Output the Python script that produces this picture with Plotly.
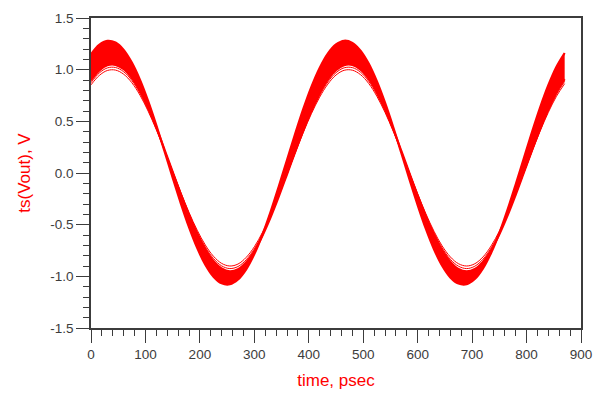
import plotly.graph_objects as go

# time samples (psec)
time_ps = [0, 15, 30, 45, 60, 75, 90, 105, 120, 135, 150, 165, 180, 195, 210, 225, 240, 255,
           270, 285, 300, 315, 330, 345, 360, 375, 390, 405, 420, 435, 450, 465, 480, 495,
           510, 525, 540, 555, 570, 585, 600, 615, 630, 645, 660, 675, 690, 705, 720, 735,
           750, 765, 780, 795, 810, 825, 840, 855, 870]

# outer edge of the trace bundle (V)
outer_trace = [1.148, 1.240, 1.279, 1.262, 1.191, 1.068, 0.901, 0.695, 0.461, 0.211,
               -0.045, -0.294, -0.524, -0.725, -0.888, -1.004, -1.068, -1.077, -1.031,
               -0.932, -0.784, -0.595, -0.373, -0.129, 0.126, 0.379, 0.620, 0.836, 1.017,
               1.156, 1.244, 1.280, 1.259, 1.184, 1.059, 0.888, 0.680, 0.445, 0.194,
               -0.062, -0.310, -0.539, -0.738, -0.897, -1.010, -1.070, -1.076, -1.026,
               -0.923, -0.772, -0.581, -0.357, -0.112, 0.143, 0.396, 0.635, 0.849, 1.028,
               1.161]

# inner edge of the dense part of the bundle (V)
bundle_inner = [0.895, 0.990, 1.042, 1.046, 1.004, 0.917, 0.790, 0.627, 0.438, 0.230,
                0.014, -0.201, -0.403, -0.585, -0.736, -0.851, -0.923, -0.950, -0.930,
                -0.863, -0.754, -0.607, -0.429, -0.229, -0.015, 0.202, 0.411, 0.603, 0.770,
                0.903, 0.995, 1.043, 1.045, 1.000, 0.910, 0.780, 0.615, 0.424, 0.216,
                -0.001, -0.215, -0.417, -0.596, -0.745, -0.857, -0.927, -0.950, -0.927,
                -0.857, -0.745, -0.596, -0.416, -0.214, 0.000, 0.216, 0.425, 0.616, 0.780,
                0.908]

# two separate innermost traces (V)
inner_trace_1 = [0.874, 0.967, 1.017, 1.021, 0.980, 0.896, 0.771, 0.613, 0.428, 0.226,
                 0.015, -0.194, -0.392, -0.569, -0.717, -0.828, -0.899, -0.925, -0.905,
                 -0.840, -0.734, -0.590, -0.417, -0.222, -0.013, 0.198, 0.402, 0.590, 0.752,
                 0.881, 0.971, 1.018, 1.020, 0.976, 0.888, 0.761, 0.601, 0.415, 0.211,
                 0.000, -0.208, -0.405, -0.580, -0.725, -0.835, -0.902, -0.925, -0.902,
                 -0.834, -0.725, -0.580, -0.404, -0.208, 0.001, 0.212, 0.415, 0.601, 0.762,
                 0.887]

inner_trace_2 = [0.853, 0.943, 0.992, 0.996, 0.956, 0.874, 0.753, 0.598, 0.418, 0.221,
                 0.016, -0.188, -0.381, -0.553, -0.697, -0.806, -0.875, -0.900, -0.881,
                 -0.817, -0.714, -0.574, -0.405, -0.215, -0.012, 0.194, 0.393, 0.576, 0.734,
                 0.860, 0.948, 0.994, 0.995, 0.952, 0.867, 0.743, 0.587, 0.405, 0.207,
                 0.002, -0.202, -0.393, -0.564, -0.706, -0.812, -0.878, -0.900, -0.878,
                 -0.812, -0.705, -0.563, -0.393, -0.201, 0.002, 0.208, 0.406, 0.587, 0.743,
                 0.865]

x_ticks = [0, 100, 200, 300, 400, 500, 600, 700, 800, 900]
y_ticks = [-1.5, -1.0, -0.5, 0.0, 0.5, 1.0, 1.5]
y_tick_text = ["-1.5", "-1.0", "-0.5", "0.0", "0.5", "1.0", "1.5"]

RED = "#ff0000"
AXIS = "#3c3c3c"
FONT = "Arial, Liberation Sans, sans-serif"

fig = go.Figure()
fig.add_trace(go.Scatter(x=time_ps, y=outer_trace, mode="lines",
                         line=dict(color=RED, width=2.2, shape="spline"),
                         hoverinfo="skip", showlegend=False))
fig.add_trace(go.Scatter(x=time_ps, y=bundle_inner, mode="lines", fill="tonexty",
                         fillcolor=RED,
                         line=dict(color=RED, width=2.0, shape="spline"),
                         hoverinfo="skip", showlegend=False))
fig.add_trace(go.Scatter(x=time_ps, y=inner_trace_1, mode="lines",
                         line=dict(color=RED, width=1.0, shape="spline"),
                         hoverinfo="skip", showlegend=False))
fig.add_trace(go.Scatter(x=time_ps, y=inner_trace_2, mode="lines",
                         line=dict(color=RED, width=1.0, shape="spline"),
                         hoverinfo="skip", showlegend=False))

axis_common = dict(
    showline=True, linecolor=AXIS, linewidth=1.5, mirror=True,
    showgrid=False, zeroline=False,
    ticks="outside", ticklen=13, tickwidth=1.3, tickcolor=AXIS,
    tickfont=dict(family=FONT, size=13.5, color=AXIS),
    automargin=False,
)

fig.update_layout(
    width=600, height=394,
    margin=dict(l=91, r=19, t=18, b=66),
    paper_bgcolor="white", plot_bgcolor="white",
    font=dict(family=FONT),
    xaxis=dict(
        range=[0, 900], tickvals=x_ticks,
        title=dict(text="time, psec", font=dict(family=FONT, size=17, color=RED), standoff=13),
        minor=dict(dtick=20, ticks="outside", ticklen=6, tickwidth=1.3, tickcolor=AXIS, showgrid=False),
        **axis_common,
    ),
    yaxis=dict(
        range=[-1.5, 1.5], tickvals=y_ticks, ticktext=y_tick_text,
        title=dict(text="ts(Vout), V", font=dict(family=FONT, size=17, color=RED), standoff=15),
        minor=dict(dtick=0.1, ticks="outside", ticklen=6, tickwidth=1.3, tickcolor=AXIS, showgrid=False),
        **axis_common,
    ),
)

fig.write_html("out.html")
